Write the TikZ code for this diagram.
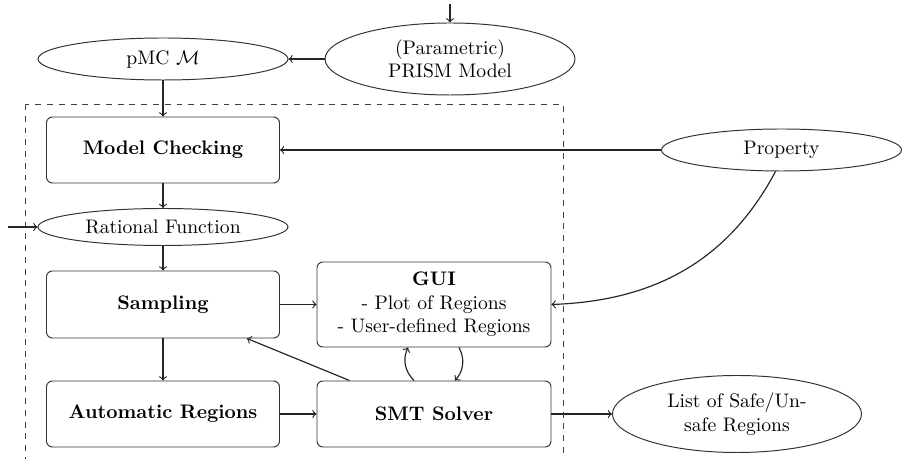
\documentclass[tikz,border=0pt]{standalone}
\usetikzlibrary{shapes.geometric}
\begin{document}
\begin{tikzpicture}[x=0.51pt,y=-0.51pt,
  ell/.style={ellipse,draw=black!80,line width=0.5pt,inner sep=0pt,align=center},
  box/.style={rectangle,rounded corners=3pt,draw=black!80,line width=0.5pt,inner sep=0pt,align=center,minimum width=233*0.51pt,minimum height=66*0.51pt,font=\bfseries},
  conn/.style={->,semithick,black!85}]
\useasboundingbox (0,0) rectangle (902,459);
\draw[dashed,black!75,line width=0.5pt] (25,104) rectangle (563,480);
\node[ell,minimum width=250*0.51pt,minimum height=42*0.51pt] (pmc) at (163,59) {pMC $\mathcal{M}$};
\node[ell,minimum width=250*0.51pt,minimum height=72*0.51pt] (prism) at (450,59) {(Parametric)\\PRISM Model};
\coordinate (top) at (450,4);
\node[box] (mc) at (163,150) {Model Checking};
\node[ell,minimum width=240*0.51pt,minimum height=42*0.51pt] (prop) at (781.5,150) {Property};
\node[ell,minimum width=250*0.51pt,minimum height=37*0.51pt] (rf) at (163,227) {Rational Function};
\coordinate (left) at (8,227);
\node[box,minimum height=67*0.51pt] (samp) at (163,304.5) {Sampling};
\node[box,minimum width=234*0.51pt,minimum height=85*0.51pt,font=\normalfont] (gui) at (434,304.5) {\textbf{GUI}\\- Plot of Regions\\- User-defined Regions};
\node[box] (auto) at (163,414) {Automatic Regions};
\node[box,minimum width=234*0.51pt] (smt) at (434,414) {SMT Solver};
\node[ell,minimum width=249*0.51pt,minimum height=77*0.51pt] (list) at (737,414) {List of Safe/Un-\\safe Regions};
\draw[conn] (top) -- (prism.north);
\draw[conn] (prism.west) -- (pmc.east);
\draw[conn] (pmc.south) -- (mc.north);
\draw[conn] (prop.west) -- (mc.east);
\draw[conn] (mc.south) -- (rf.north);
\draw[conn] (left) -- (rf.west);
\draw[conn] (rf.south) -- (samp.north);
\draw[conn] (samp.east) -- (gui.west);
\draw[conn] (samp.south) -- (auto.north);
\draw[conn] (auto.east) -- (smt.west);
\draw[conn] (smt.east) -- (list.west);
\draw[conn] ([xshift=33*0.51pt]smt.north west) -- ([xshift=-33*0.51pt]samp.south east);
\draw[conn] ([xshift=-20*0.51pt]smt.north) to[bend left=35] ([xshift=-26*0.51pt]gui.south);
\draw[conn] ([xshift=25*0.51pt]gui.south) to[bend left=35] ([xshift=21*0.51pt]smt.north);
\draw[conn] ([xshift=-6*0.51pt]prop.south) to[out=-118,in=2] (gui.east);
\end{tikzpicture}
\end{document}
